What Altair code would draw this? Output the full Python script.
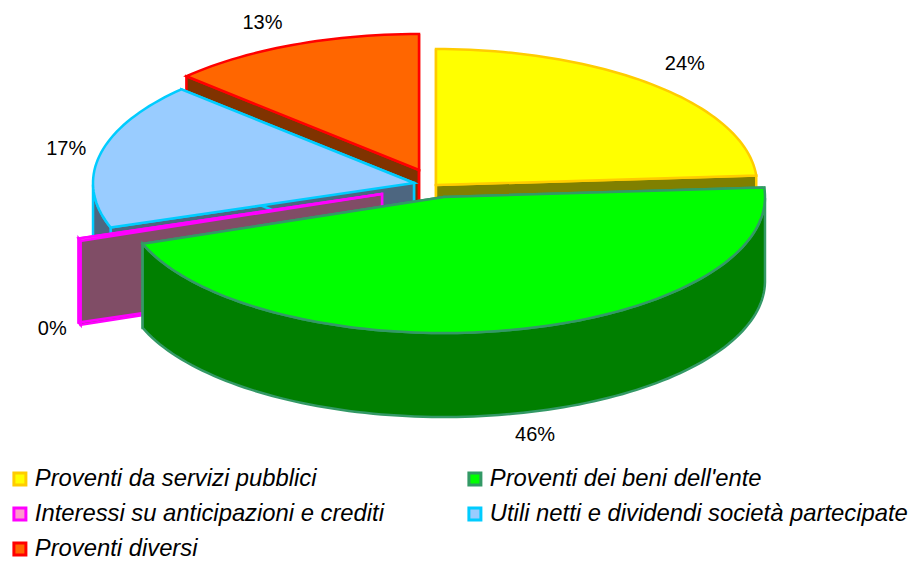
import math
import altair as alt
import pandas as pd

# ---- chart values -------------------------------------------------
names = ["Proventi da servizi pubblici", "Proventi dei beni dell'ente",
         "Interessi su anticipazioni e crediti",
         "Utili netti e dividendi società partecipate", "Proventi diversi"]
shares = [23.9, 45.5, 0.3, 17.4, 12.9]
shown = ["24%", "46%", "0%", "17%", "13%"]
fills = ["#ffff00", "#00ff00", "#ff99cc", "#99ccff", "#ff6600"]
strokes = ["#ffcc00", "#339966", "#ff00ff", "#00ccff", "#ff0000"]
walls = ["#808000", "#007f00", "#804d66", "#4d6680", "#803300"]
# the legend fills column by column, so its rows read across like the reference
legend_order = [0, 2, 4, 1, 3]

# ---- 3D pie layout (pixels of the 916x569 page) --------------------
RX, RY, DEPTH = 321, 136, 84
apex = [(436, 185), (444, 197), (382, 194), (414, 183), (419, 170)]
label_nudge = [(-3, -7), (14, 1), (18, -2), (13, -1), (-11, -3)]
LABEL_R = 1.15
paint_order = [4, 0, 3, 2, 1]


def rim(i, t):
    cx, cy = apex[i]
    return cx + RX * math.sin(t), cy - RY * math.cos(t)


def poly(points, fill, stroke, width):
    pts = [[float(x), float(y)] for x, y in points]
    return {"type": "Feature",
            "geometry": {"type": "Polygon", "coordinates": [pts + [pts[0]]]},
            "properties": {"fill": fill, "stroke": stroke, "sw": width}}


starts, acc = [], 0.0
for s in shares:
    starts.append(acc)
    acc += s
scale = 2 * math.pi / acc

features = []
for i in paint_order:
    a0, a1 = starts[i] * scale, (starts[i] + shares[i]) * scale
    n = max(2, int(math.degrees(a1 - a0) / 1.5))
    ts = [a0 + (a1 - a0) * k / n for k in range(n + 1)]
    arc = [rim(i, t) for t in ts]
    cx, cy = apex[i]
    # the two cut faces, then the outer wall, then the top
    for end in (arc[0], arc[-1]):
        features.append(poly([(cx, cy), end, (end[0], end[1] + DEPTH), (cx, cy + DEPTH)],
                             walls[i], strokes[i], 2.5))
    # outer wall: only the part of the rim that faces the viewer
    front = [(x, y) for (x, y), t in zip(arc, ts) if math.cos(t) <= 0.0]
    if len(front) >= 2:
        low = [(x, y + DEPTH) for x, y in reversed(front)]
        features.append(poly(front + low, walls[i], strokes[i], 2.5))
    features.append(poly([(cx, cy)] + arc, fills[i], strokes[i], 2.5))

# percentage labels follow the mid-angle of their slice
lab = []
for i in range(len(names)):
    mid = (starts[i] + shares[i] / 2) * scale
    cx, cy = apex[i]
    x = cx + RX * LABEL_R * math.sin(mid) + label_nudge[i][0]
    y = cy - RY * LABEL_R * math.cos(mid) + label_nudge[i][1]
    if math.cos(mid) < 0:
        y += DEPTH
    lab.append({"txt": shown[i], "lon": x, "lat": y})

legend_pts = pd.DataFrame({"name": names,
                           "lon": [a[0] for a in apex],
                           "lat": [a[1] for a in apex]})

proj = alt.Projection(type="identity", scale=1, translate=[-8, -8])

legend_opts = dict(
    title=None, orient="none", legendX=0, legendY=459, columns=2,
    symbolType="square", symbolSize=144, symbolStrokeWidth=3, symbolOpacity=1,
    labelFont="Liberation Sans", labelFontStyle="italic", labelFontSize=23.8,
    labelColor="#000000", labelOffset=3, rowPadding=10, columnPadding=78,
    labelLimit=600,
)
leg_domain = [names[i] for i in legend_order]
leg_fill = [fills[i] for i in legend_order]
leg_stroke = [strokes[i] for i in legend_order]

key = alt.Chart(legend_pts).mark_point(filled=True, size=1).encode(
    longitude="lon:Q", latitude="lat:Q",
    fill=alt.Fill("name:N", scale=alt.Scale(domain=leg_domain, range=leg_fill),
                  sort=leg_domain, legend=alt.Legend(**legend_opts)),
    stroke=alt.Stroke("name:N", scale=alt.Scale(domain=leg_domain, range=leg_stroke),
                      sort=leg_domain, legend=alt.Legend(**legend_opts)),
).project(**proj.to_dict())

faces = alt.Chart(alt.Data(values=features)).mark_geoshape(strokeJoin="miter").encode(
    fill=alt.Fill("properties.fill:N", scale=None, legend=None),
    stroke=alt.Stroke("properties.stroke:N", scale=None, legend=None),
    strokeWidth=alt.StrokeWidth("properties.sw:Q", scale=None, legend=None),
).project(**proj.to_dict())

labels = alt.Chart(pd.DataFrame(lab)).mark_text(
    font="Liberation Sans", fontSize=20, color="#000000",
    align="center", baseline="middle",
).encode(longitude="lon:Q", latitude="lat:Q", text="txt:N").project(**proj.to_dict())

chart = (
    alt.layer(key, faces, labels)
    .resolve_scale(fill="independent", stroke="independent")
    .properties(width=900, height=553, padding=0,
                autosize=alt.AutoSizeParams(type="none"))
    .configure_view(stroke=None)
    .configure(background="#ffffff")
)
chart.save("out.html", embed_options={"renderer": "svg", "actions": False})
